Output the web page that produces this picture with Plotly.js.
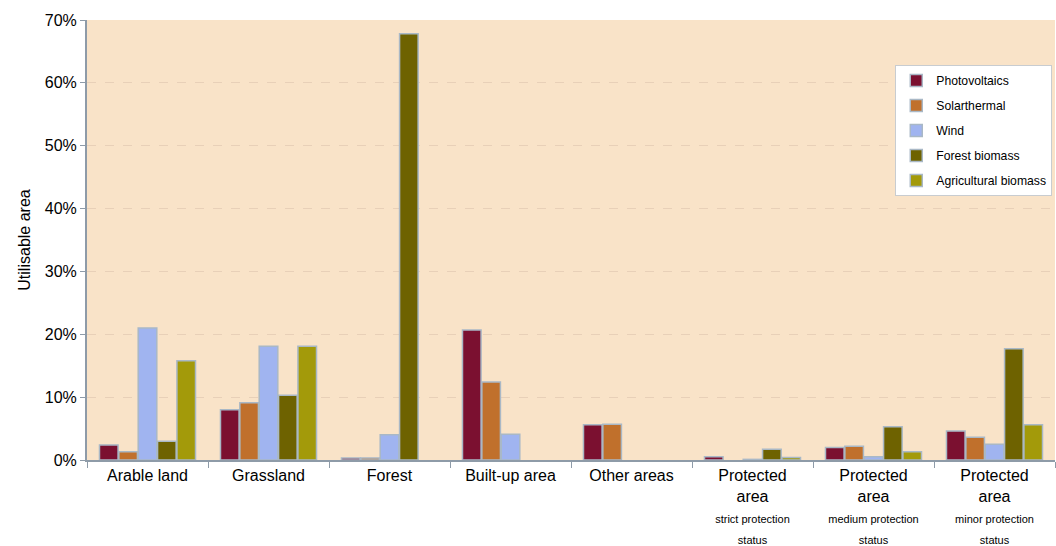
<!DOCTYPE html>
<html><head><meta charset="utf-8">
<script src="https://cdn.plot.ly/plotly-3.0.1.min.js"></script>
<style>body{margin:0;background:#fff}#c{width:1056px;height:546px}</style>
</head><body><div id="c"></div>
<script>
const categories = ["Arable land","Grassland","Forest","Built-up area","Other areas","Protected area|strict protection status","Protected area|medium protection status","Protected area|minor protection status"];
const tickLabels = ["Arable land","Grassland","Forest","Built-up area","Other areas",
 "Protected<br>area<br><span style='font-size:11px'>strict protection<br>status</span>",
 "Protected<br>area<br><span style='font-size:11px'>medium protection<br>status</span>",
 "Protected<br>area<br><span style='font-size:11px'>minor protection<br>status</span>"];
const seriesNames = ["Photovoltaics","Solarthermal","Wind","Forest biomass","Agricultural biomass"];
const photovoltaics = [2.4, 8.0, 0.3, 20.7, 5.6, 0.5, 2.0, 4.6];
const solarthermal = [1.3, 9.1, 0.3, 12.4, 5.7, 0.0, 2.2, 3.6];
const wind = [21.0, 18.1, 4.0, 4.1, 0.0, 0.1, 0.5, 2.5];
const forestBiomass = [3.0, 10.3, 67.8, 0.0, 0.0, 1.7, 5.3, 17.7];
const agriculturalBiomass = [15.8, 18.1, 0.0, 0.0, 0.0, 0.4, 1.3, 5.6];
const colors = ["#7B1030","#C0702C","#A0B4F0","#6E6200","#A39A0A"];
const allSeries = [photovoltaics, solarthermal, wind, forestBiomass, agriculturalBiomass];

const traces = allSeries.map((vals,i)=>({
  type:'bar', name:seriesNames[i], x:categories, y:vals.map(v=>v===0?null:v/100),
  marker:{color:colors[i], line:{color:'#A9B8C6', width:1.5}},
  legendgroup:'g'+i, hoverinfo:'skip'
}));

const layout = {
  width:1056, height:546,
  margin:{l:87, r:1, t:20, b:86},
  paper_bgcolor:'#ffffff', plot_bgcolor:'#F9E3C8',
  font:{family:'Liberation Sans, Arial, sans-serif', color:'#000'},
  barmode:'group', bargap:0.2, bargroupgap:0.04,
  showlegend:true,
  legend:{x:0.835, y:0.898, xanchor:'left', yanchor:'top', bgcolor:'#ffffff',
    bordercolor:'#C8CCD0', borderwidth:1, font:{size:12.2}, tracegroupgap:6, traceorder:'grouped'},
  xaxis:{type:'category', tickvals:categories, ticktext:tickLabels, tickfont:{size:16},
    showline:true, linecolor:'#8E9BA8', linewidth:2, ticks:'outside', ticklen:6, tickcolor:'#8E9BA8',
    tickson:'boundaries', showgrid:false, mirror:false, automargin:false},
  yaxis:{range:[0,0.7], tickvals:[0,0.1,0.2,0.3,0.4,0.5,0.6,0.7], tickformat:'.0%', tickfont:{size:16},
    showline:true, linecolor:'#8E9BA8', linewidth:2, ticks:'outside', ticklen:5, tickcolor:'#8E9BA8',
    showgrid:true, gridcolor:'#E8D0B8', griddash:'dash', zeroline:false,
    title:{text:'Utilisable area', font:{size:16}, standoff:10}, automargin:false}
};
Plotly.newPlot('c', traces, layout, {displayModeBar:false, staticPlot:true});
</script></body></html>
